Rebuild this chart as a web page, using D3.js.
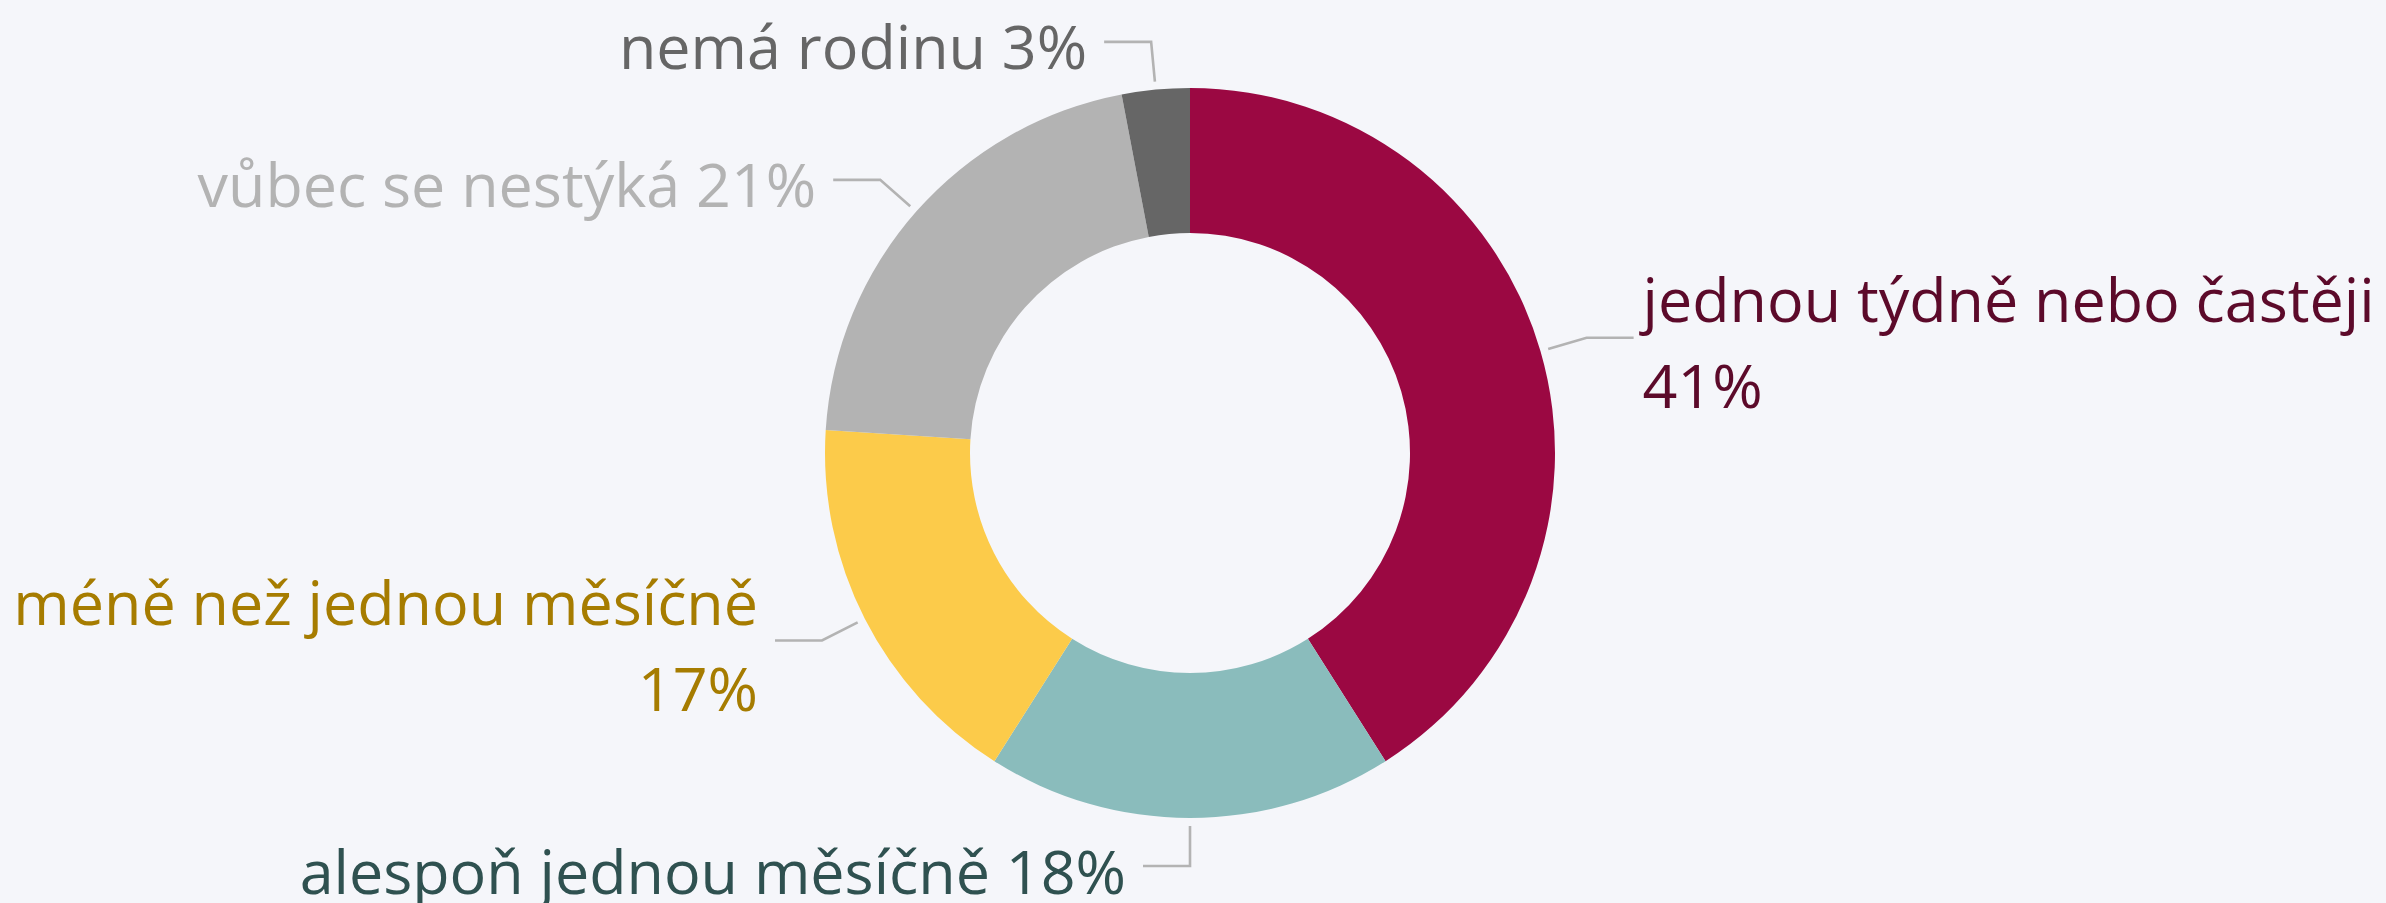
<!DOCTYPE html>
<html>
<head>
<meta charset="utf-8">
<script src="https://cdn.jsdelivr.net/npm/d3@7"></script>
<style>
  html, body { margin: 0; padding: 0; background: #f5f6fa; }
  svg { display: block; }
  text { font-family: "Open Sans", "Noto Sans", sans-serif; }
</style>
</head>
<body>
<svg id="chart"></svg>
<script>
// Frequency of contact with family (share of respondents, %)
const categories = [
  "jednou týdně nebo častěji",
  "alespoň jednou měsíčně",
  "méně než jednou měsíčně",
  "vůbec se nestýká",
  "nemá rodinu"
];
const values = [41, 18, 17, 21, 3];
const sliceColors = ["#9b0842", "#8abcbc", "#fccb4a", "#b3b3b3", "#666666"];
const labelColors = ["#5c0a2a", "#2f5150", "#a67c00", "#b3b3b3", "#666666"];

const W = 2386, H = 903;
const cx = 1190, cy = 453;
const outerR = 365, innerR = 220;
const fontSize = 61, lineHeight = 86;
// labels that are broken onto a second line (name / percentage)
const twoLine = new Set([0, 2]);

const svg = d3.select("#chart").attr("width", W).attr("height", H);
svg.append("rect").attr("width", W).attr("height", H).attr("fill", "#f5f6fa");

const g = svg.append("g").attr("transform", `translate(${cx},${cy})`);

const data = categories.map((c, i) => ({ name: c, value: values[i], i }));
const pie = d3.pie().sort(null).value(d => d.value).startAngle(0).endAngle(2 * Math.PI);
const arcs = pie(data);

const arc = d3.arc().innerRadius(innerR).outerRadius(outerR);
g.selectAll("path.slice").data(arcs).join("path")
  .attr("class", "slice")
  .attr("d", arc)
  .attr("fill", d => sliceColors[d.data.i]);

// connector geometry: short radial stub, then a horizontal run to the label
const startArc = d3.arc().innerRadius(outerR + 8).outerRadius(outerR + 8);
const bendArc = d3.arc().innerRadius(outerR + 48).outerRadius(outerR + 48);
const run = 47;

arcs.forEach(d => {
  const [sx, sy] = startArc.centroid(d);
  const [bx, by] = bendArc.centroid(d);
  const right = bx > 0.5;
  const ex = right ? bx + run : bx - run;

  g.append("path")
    .attr("d", d3.line()([[sx, sy], [bx, by], [ex, by]]))
    .attr("fill", "none")
    .attr("stroke", "#b3b3b3")
    .attr("stroke-width", 2.6);

  const pct = d.data.value + "%";
  const lines = twoLine.has(d.data.i) ? [d.data.name, pct] : [d.data.name + " " + pct];
  const tx = right ? ex + 9 : ex - 17;
  const y0 = by + 27.5 - (lines.length - 1) * lineHeight / 2;

  const t = g.append("text")
    .attr("x", tx)
    .attr("y", y0)
    .attr("text-anchor", right ? "start" : "end")
    .attr("fill", labelColors[d.data.i])
    .attr("font-size", fontSize);
  lines.forEach((ln, k) => {
    t.append("tspan").attr("x", tx).attr("y", y0 + k * lineHeight).text(ln);
  });
});
</script>
</body>
</html>
